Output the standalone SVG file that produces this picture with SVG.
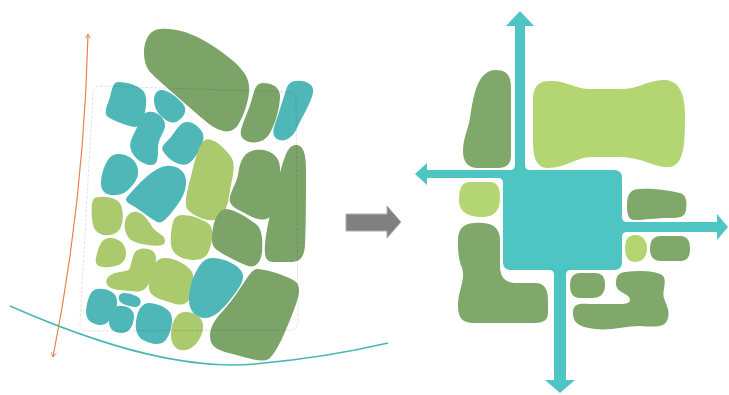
<svg xmlns="http://www.w3.org/2000/svg" width="729" height="395" viewBox="0 0 729 395">
<style>
.t{fill:#50b7b8}
.d{fill:#7ca468}
.l{fill:#abca6d}
.rt{fill:#4fc5c3}
.rd{fill:#7fa86a}
.rl{fill:#b4d672}
.frame{fill:none;stroke:#000;stroke-opacity:0.12;stroke-width:1;stroke-dasharray:3 1.5}
.or{fill:none;stroke:#e8824c;stroke-width:1.2}
.curve{fill:none;stroke:#45b8b6;stroke-width:1.6}
</style>
<defs>
<marker id="chev" viewBox="0 0 10 10" refX="8" refY="5" markerWidth="6" markerHeight="6" orient="auto-start-reverse" markerUnits="userSpaceOnUse">
<path d="M1,1 L8,5 L1,9" fill="none" stroke="#e8824c" stroke-width="1.5"/>
</marker>
</defs>
<rect width="729" height="395" fill="#fff"/>

<g id="left-blobs">
<path id="b1" class="d" d="M160,29 C185,27 210,42 232,60 C246,72 250,80 249,92 C248,104 243,117 238,125 C234,131 227,133 220,130 C212,127 205,121 196,113 C180,99 162,84 150,72 C140,60 142,30 160,29 Z"/>
<path id="b2" class="d" d="M263,83 C273,83 281,88 280,98 C279,110 276,122 270,133 C266,140 258,144 250,142 C242,140 240,136 241,130 C243,122 246,116 249,108 C252,100 254,90 256,87 C258,84 260,83 263,83 Z"/>
<path id="b3" class="t" d="M296,81 C306,80 315,85 313,93 C310,105 303,115 297,128 C293,137 286,142 279,140 C273,138 272,132 275,124 C279,112 283,100 286,90 C288,84 291,81 296,81 Z"/>
<path id="b4" class="t" d="M118,82 C128,82 140,86 144,92 C148,98 146,110 143,120 C141,127 136,128 130,126 C122,124 113,120 108,117 C104,114 106,108 109,100 C112,92 112,82 118,82 Z"/>
<path id="b5" class="t" d="M160,90 C168,89 178,98 183,104 C188,110 184,117 178,121 C172,125 166,121 160,115 C153,108 151,93 160,90 Z"/>
<path id="b6" class="t" d="M148,112 C156,110 166,118 165,126 C164,134 158,138 158,148 C158,158 158,166 150,165 C142,164 134,158 131,150 C128,142 134,135 138,125 C141,117 143,113 148,112 Z"/>
<path id="b7" class="t" d="M186,122 C193,121 201,128 203,134 C205,141 200,150 195,157 C190,164 186,166 179,164 C171,161 166,156 163,151 C160,146 166,143 171,137 C177,129 180,123 186,122 Z"/>
<path id="b8" class="t" d="M118,154 C128,154 137,160 138,170 C139,178 134,184 128,190 C122,196 110,197 104,192 C99,187 101,176 104,168 C107,160 111,154 118,154 Z"/>
<path id="b9" class="t" d="M166,166 C176,165 185,170 186,180 C187,192 180,202 172,212 C166,219 162,224 157,222 C150,218 143,212 135,207 C128,203 124,201 127,197 C135,188 152,168 166,166 Z"/>
<path id="b10" class="l" d="M205,140 C212,136 225,148 231,157 C236,164 233,175 230,190 C228,205 225,218 215,220 C205,222 193,215 188,210 C184,205 186,195 190,180 C194,165 198,144 205,140 Z"/>
<path id="b11" class="d" d="M255,150 C268,148 280,155 280,168 C280,185 280,205 272,215 C266,222 258,220 248,215 C240,210 232,208 230,202 C228,195 236,185 238,175 C240,160 244,152 255,150 Z"/>
<path id="b12" class="d" d="M296,145 C304,145 306,155 306,170 C306,195 306,225 305,245 C304,258 300,262 290,262 L273,262 C266,262 264,256 265,245 C266,230 270,215 275,195 C279,175 283,160 287,152 C290,147 292,145 296,145 Z"/>
<path id="b13" class="d" d="M226,209 C234,209 248,218 256,224 C262,229 263,240 262,252 C261,262 256,268 248,266 C238,262 225,256 217,250 C211,246 211,238 213,228 C215,218 219,209 226,209 Z"/>
<path id="b14" class="l" d="M100,197 C110,196 120,199 122,208 C124,218 123,230 114,234 C106,237 98,235 94,228 C91,220 91,205 93,200 C95,197 97,197 100,197 Z"/>
<path id="b15" class="l" d="M133,212 C142,210 148,220 153,228 C158,234 165,235 165,241 C165,247 155,246 148,245 C140,244 130,242 127,235 C123,228 124,214 133,212 Z"/>
<path id="b16" class="l" d="M182,215 C192,215 205,220 210,225 C214,230 212,245 208,253 C204,260 196,261 186,259 C177,257 172,252 171,245 C170,235 172,222 175,218 C177,216 179,215 182,215 Z"/>
<path id="b17" class="l" d="M110,238 C120,238 126,245 126,253 C126,262 120,266 110,267 C100,268 94,266 96,258 C98,250 100,238 110,238 Z"/>
<path id="b18" class="l" d="M140,249 C150,247 157,252 156,260 C155,268 152,278 148,285 C144,292 138,292 130,291 C120,290 112,290 108,286 C104,281 108,275 115,273 C122,271 128,272 130,268 C132,262 132,251 140,249 Z"/>
<path id="b19" class="l" d="M165,258 C175,258 188,265 192,272 C195,278 193,290 190,298 C187,305 180,306 172,303 C163,300 153,298 150,292 C147,286 150,275 153,267 C156,260 160,258 165,258 Z"/>
<path id="b20" class="t" d="M212,258 C225,258 238,265 242,272 C246,280 238,290 230,300 C222,310 214,318 205,318 C195,318 189,310 189,300 C189,290 192,278 197,270 C201,262 206,258 212,258 Z"/>
<path id="b21" class="d" d="M258,269 C270,270 290,277 296,282 C302,288 298,300 292,315 C285,332 278,350 270,358 C264,363 255,360 240,356 C225,352 214,350 211,342 C208,333 212,322 222,312 C235,298 245,280 250,274 C253,270 255,269 258,269 Z"/>
<path id="b22" class="t" d="M97,289 C107,288 116,292 117,300 C118,308 113,316 108,322 C104,326 97,326 91,322 C86,319 85,312 87,304 C89,296 91,290 97,289 Z"/>
<path id="b23" class="t" d="M124,293 C130,293 138,296 140,299 C142,303 139,308 134,307 C128,306 121,304 119,300 C118,296 120,293 124,293 Z"/>
<path id="b24" class="t" d="M118,306 C126,305 134,309 134,316 C134,324 130,333 122,333 C114,333 109,329 109,322 C109,314 111,307 118,306 Z"/>
<path id="b25" class="t" d="M148,303 C158,303 168,308 171,314 C174,322 170,335 165,341 C160,346 150,344 143,340 C137,336 135,330 136,322 C137,313 140,304 148,303 Z"/>
<path id="b26" class="l" d="M185,312 C195,312 204,318 203,328 C202,338 195,348 186,350 C177,352 171,345 171,335 C171,325 175,312 185,312 Z"/>
</g>

<g id="frame">
<path class="frame" d="M100,86 L288,92 Q296,92 296,100 L298,322 Q298,330 290,330 L88,331 Q80,331 80,323 L93,94 Q94,86 100,86 Z"/>
</g>

<g id="connectors">
<path id="orange-axis" class="or" d="M88,34 Q84,200 53,357" marker-start="url(#chev)" marker-end="url(#chev)"/>
<path id="ground-curve" class="curve" d="M10,306 C110,350 190,370 255,364 C310,359 350,352 388,343"/>
<path id="transform-arrow" d="M346,214 L387,214 L387,206 L401,222 L387,238 L387,231 L346,231 Z" fill="#808080" stroke="#b0b0b0" stroke-width="1"/>
</g>

<g id="right-cross">
<path class="rt" d="M427,170 L510,170 Q515,170 515,165 L515,26 L506,26 L520,11 L534,26 L525,26 L525,165 Q525,170 530,170 L614,170 Q622,170 622,178 L622,217 Q622,222 627,222 L717,222 L717,214 L728,227 L717,240 L717,232 L627,232 Q622,232 622,237 L622,262 Q622,270 614,270 L571,270 Q566,270 566,275 L566,380 L575,380 L560,393 L545,380 L554,380 L554,275 Q554,270 549,270 L511,270 Q503,270 503,262 L503,183 Q503,178 498,178 L427,178 L427,185 L415,174 L427,163 Z"/>
</g>

<g id="right-blobs">
<path id="r1" class="rd" d="M496,70 C507,70 511,76 511,88 L511,155 C511,165 506,168 496,168 L478,168 C467,168 463,161 463,151 C463,138 468,130 470,118 C473,100 476,70 496,70 Z"/>
<path id="r2" class="rl" d="M550,81 C565,80 575,89 590,89 L620,89 C640,89 650,79 665,80 C680,81 685,95 685,115 C685,140 685,165 670,167 C655,168 645,158 620,157 L590,157 C575,158 565,168 548,168 C535,168 533,155 533,140 L533,100 C533,85 540,81 550,81 Z"/>
<path id="r3" class="rl" d="M470,182 L490,182 C499,182 500,190 500,198 C500,212 493,217 482,217 C468,217 459,212 459,200 C459,188 462,182 470,182 Z"/>
<path id="r4" class="rd" d="M475,223 C490,222 500,226 500,240 L500,265 C500,278 505,283 518,283 L535,283 C545,283 548,290 548,300 L548,312 C548,322 542,323 530,323 L475,323 C462,323 458,318 458,305 C458,290 466,280 462,268 C458,258 458,250 458,240 C458,228 465,223 475,223 Z"/>
<path id="r5" class="rd" d="M640,189 C655,188 670,191 680,193 C687,195 687,203 686,210 C685,217 680,218 670,218 C655,218 645,220 635,220 C628,220 627,214 627,205 C627,195 630,189 640,189 Z"/>
<path id="r6" class="rl" d="M635,235 C644,235 647,242 647,249 C647,257 642,262 635,262 C628,262 625,256 625,248 C625,240 628,235 635,235 Z"/>
<path id="r7" class="rd" d="M661,236 L680,236 C688,236 690,242 690,249 C690,257 687,261 680,261 L661,261 C653,261 650,256 650,249 C650,241 653,236 661,236 Z"/>
<path id="r8" class="rd" d="M580,273 L595,273 C603,273 605,278 605,285 C605,294 600,298 592,298 L580,298 C573,298 570,293 570,286 C570,278 573,273 580,273 Z"/>
<path id="r9" class="rd" d="M625,272 C640,270 655,271 662,275 C668,280 662,290 664,298 C666,305 670,310 668,318 C666,328 655,327 640,326 C625,326 610,331 595,329 C578,327 573,322 573,313 C573,304 578,303 590,304 L622,304 C630,304 632,300 628,296 C622,292 616,290 616,284 C616,276 618,273 625,272 Z"/>
</g>
</svg>
